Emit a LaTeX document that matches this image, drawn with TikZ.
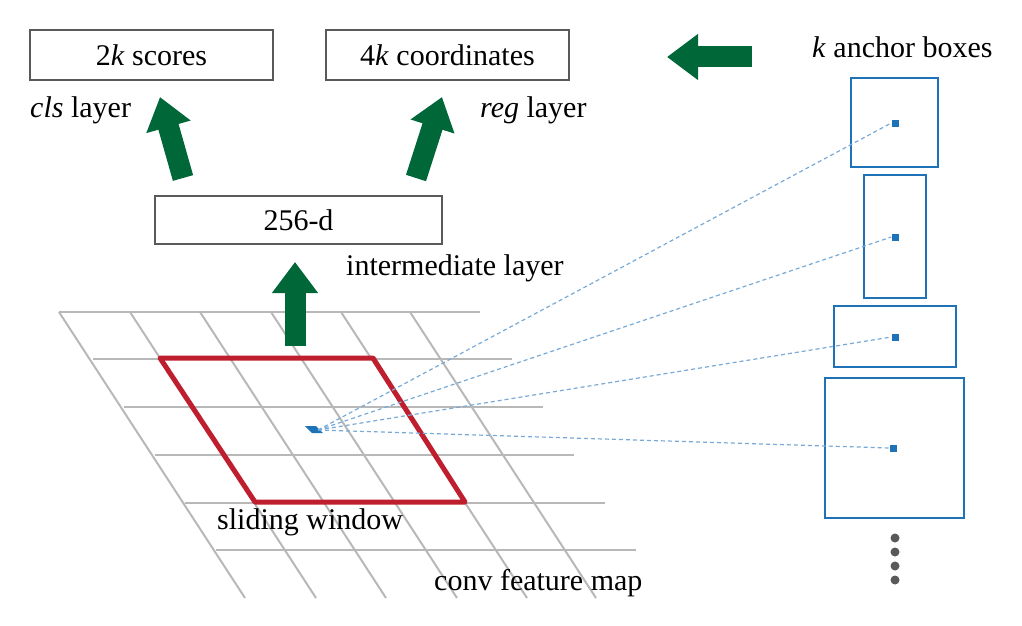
\documentclass[tikz,border=0pt]{standalone}
\usepackage{fontspec}
\setmainfont{Liberation Serif}
\usetikzlibrary{arrows.meta}
\definecolor{grn}{RGB}{0,104,56}
\definecolor{rd}{RGB}{190,30,45}
\definecolor{bl}{RGB}{30,114,184}
\definecolor{lbl}{RGB}{120,170,215}
\begin{document}
\begin{tikzpicture}[x=1pt,y=-1pt,
  every node/.style={font=\fontsize{30}{34}\selectfont,inner sep=0pt},
  box/.style={draw=black!65,line width=1.8pt,minimum height=50pt},
  garrow/.style={grn,line width=21pt,-{Triangle[length=31pt,width=44pt]}},
  gridln/.style={black!28,line width=2pt},
  abox/.style={draw=bl,line width=2pt},
  ctr/.style={fill=bl,minimum size=7pt},
  dashln/.style={lbl,line width=1.2pt,dash pattern=on 4pt off 3pt}]
\useasboundingbox (0,0) rectangle (1022,626);
% grid
\foreach \y/\a/\b in {312/59/480,359/93/512,407/124/543,455/155/574,503/185/605,550/216/636}
  \draw[gridln] (\a,\y) -- (\b,\y);
\foreach \x in {59,130,200,271,341,410}
  \draw[gridln] (\x,312) -- ({\x+186},598);
% sliding window
\draw[rd,line width=5pt,line join=round] (160,358) -- (373,358) -- (465,502) -- (255,502) -- cycle;
\fill[bl] (305,426) -- (316,426) -- (323,433) -- (312,433) -- cycle;
\coordinate (c) at (318,430);
% boxes
\node[box,minimum width=243pt] (cls) at (151.5,55) {2\textit{k} scores};
\node[box,minimum width=243pt] (reg) at (447.5,55) {4\textit{k} coordinates};
\node[box,minimum width=287pt,minimum height=48pt] (mid) at (298.5,220) {256-d};
\node[anchor=west] (clsl) at (30,110) {\textit{cls} layer};
\node[anchor=west] (regl) at (480,110) {\textit{reg} layer};
\node[anchor=west] (midl) at (346,268) {intermediate layer};
\node[anchor=west] (sw) at (217,522) {sliding window};
\node[anchor=west] (cfm) at (434,583) {conv feature map};
\node[anchor=west] (kab) at (812,47) {\textit{k} anchor boxes};
% green arrows
\coordinate (a0) at (295,346); \coordinate (a1) at (295,262);
\coordinate (l0) at (183,178); \coordinate (l1) at (160,97);
\coordinate (r0) at (416,178); \coordinate (r1) at (442,97);
\coordinate (h0) at (752,57); \coordinate (h1) at (667,57);
\draw[garrow] (a0) -- (a1);
\draw[garrow] (l0) -- (l1);
\draw[garrow] (r0) -- (r1);
\draw[garrow] (h0) -- (h1);
% anchor boxes
\draw[abox] (851,78) rectangle (938,167);
\draw[abox] (864,175) rectangle (926,298);
\draw[abox] (834,306) rectangle (956,367);
\draw[abox] (825,378) rectangle (964,518);
\node[ctr] (p1) at (895,123) {};
\node[ctr] (p2) at (895,237) {};
\node[ctr] (p3) at (895,337) {};
\node[ctr] (p4) at (893,448) {};
\foreach \p in {p1,p2,p3,p4} \draw[dashln] (c) -- (\p.west);
\foreach \y in {538,552,566,580} \fill[black!65] (895,\y) circle (4.5pt);
\end{tikzpicture}
\end{document}
